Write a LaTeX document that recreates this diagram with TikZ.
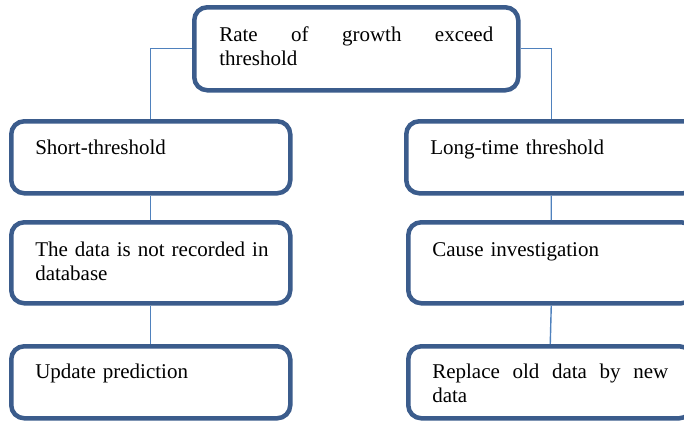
\documentclass[tikz,border=0pt]{standalone}
\usepackage{fontspec}
\setmainfont{Liberation Serif}
\usetikzlibrary{positioning}
\definecolor{BoxBlue}{RGB}{59,92,140}
\definecolor{LinkBlue}{RGB}{79,129,189}

\tikzset{
  stage/.style={draw=BoxBlue, line width=4.5bp, rounded corners=13bp, fill=white,
    inner xsep=24bp, inner ysep=0pt, anchor=north west,
    font=\fontsize{21bp}{24bp}\selectfont},
  link/.style={draw=LinkBlue, line width=1.4bp}
}

\begin{document}
\begin{tikzpicture}[x=1bp,y=-1bp]
  \useasboundingbox (0,0) rectangle (684,420);

  % top box
  \node[stage, inner xsep=25bp, text width=274bp, align=justify, text height=34bp, text depth=49bp] (rate) at (192,5) {Rate of growth exceed\linebreak threshold};

  % left column
  \node[stage, text width=231bp, align=left, text height=33bp, text depth=39bp] (short) at (9,119) {Short-threshold};
  \node[stage, text width=231bp, align=left, text height=34bp, text depth=47bp] (norec) at (9,220) {\mbox{The data is not recorded in}\\database};
  \node[stage, text width=231bp, align=left, text height=32bp, text depth=40bp] (update) at (9,344) {Update prediction};

  % right column
  \node[stage, text width=242bp, align=left, text height=33bp, text depth=39bp] (long) at (404,119) {Long-time threshold};
  \node[stage, text width=238bp, align=left, text height=34bp, text depth=47bp] (cause) at (406,220) {Cause investigation};
  \node[stage, text width=236bp, align=justify, text height=32bp, text depth=40bp] (replace) at (406,344) {Replace old data by new\linebreak data};

  % connectors
  \draw[link] (rate.west) -| (short.north);
  \draw[link] (rate.east) -| (long.north);
  \draw[link] (short.south) -- (norec.north);
  \draw[link] (norec.south) -- (update.north);
  \draw[link] (long.south) -- (cause.north);
  \draw[link] (cause.south) -- (replace.north);
\end{tikzpicture}
\end{document}
